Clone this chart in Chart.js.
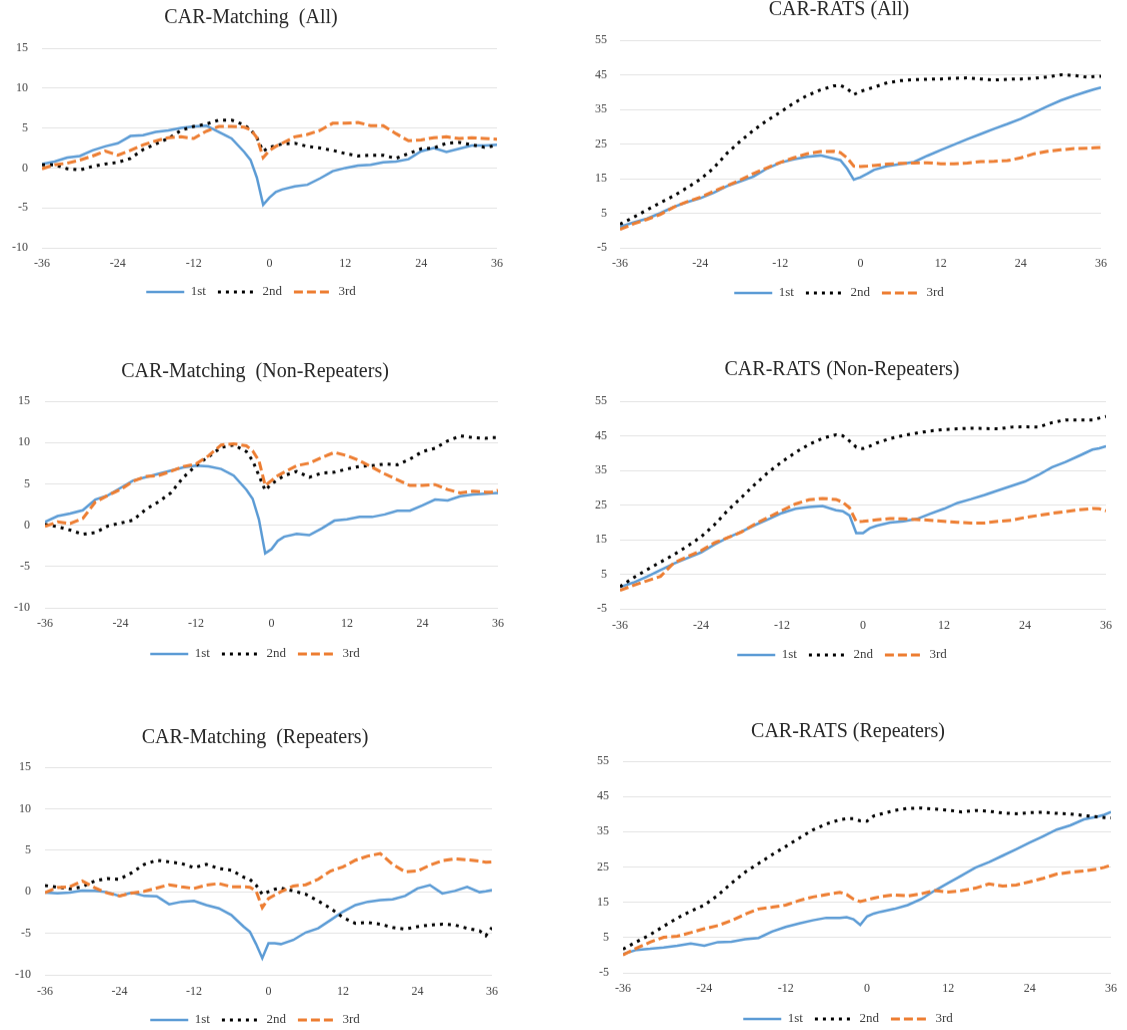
<!DOCTYPE html>
<html>
<head>
<meta charset="utf-8">
<script src="https://cdn.jsdelivr.net/npm/chart.js@4.4.0/dist/chart.umd.min.js"></script>
<style>
  html, body { margin: 0; padding: 0; background: #fff; overflow: hidden; }
  body { width: 1127px; height: 1030px; position: relative; }
  .panel { position: absolute; }
</style>
</head>
<body>
<div class="panel" id="p0"><canvas id="c0"></canvas></div>
<div class="panel" id="p1"><canvas id="c1"></canvas></div>
<div class="panel" id="p2"><canvas id="c2"></canvas></div>
<div class="panel" id="p3"><canvas id="c3"></canvas></div>
<div class="panel" id="p4"><canvas id="c4"></canvas></div>
<div class="panel" id="p5"><canvas id="c5"></canvas></div>
<script>
// months relative to the event
const months = [-36, -34, -32, -30, -28, -26, -24, -22, -20, -18, -16, -14, -12, -10, -8, -6, -4, -3, -2, -1,
                0, 1, 2, 4, 6, 8, 10, 12, 14, 16, 18, 20, 22, 24, 26, 28, 30, 32, 34, 35, 36];

const seriesNames = ['1st', '2nd', '3rd'];
const xTicks = [-36, -24, -12, 0, 12, 24, 36];
const yTicksMatch = [-10, -5, 0, 5, 10, 15];
const yTicksRats = [-5, 5, 15, 25, 35, 45, 55];

// CAR-Matching (All)
const matchAll1st = [0.5, 0.8, 1.3, 1.5, 2.2, 2.7, 3.1, 4.0, 4.1, 4.5, 4.7, 5.0, 5.2, 5.3, 4.5, 3.7, 2.0, 1.0, -1.2, -4.6,
                     -3.7, -3.0, -2.7, -2.3, -2.1, -1.3, -0.4, 0, 0.3, 0.4, 0.7, 0.8, 1.1, 2.1, 2.5, 2.0, 2.4, 2.8, 2.8, 2.85, 2.9];
const matchAll2nd = [0.4, 0.4, -0.1, -0.25, 0.2, 0.5, 0.7, 1.2, 2.3, 3.0, 3.7, 4.7, 5.2, 5.5, 6.0, 6.0, 5.4, 4.8, 3.8, 2.1,
                     2.6, 2.8, 3.0, 3.1, 2.7, 2.5, 2.2, 1.8, 1.5, 1.6, 1.6, 1.2, 1.8, 2.4, 2.5, 3.1, 3.2, 2.9, 2.6, 2.7, 2.9];
const matchAll3rd = [-0.1, 0.4, 0.6, 1.0, 1.5, 2.1, 1.6, 2.2, 2.9, 3.4, 3.8, 3.9, 3.7, 4.6, 5.2, 5.2, 5.1, 4.8, 3.8, 1.3,
                     2.2, 2.7, 3.1, 3.9, 4.2, 4.7, 5.6, 5.6, 5.7, 5.3, 5.3, 4.3, 3.4, 3.5, 3.8, 3.9, 3.7, 3.8, 3.7, 3.65, 3.6];

// CAR-RATS (All)
const ratsAll1st = [1.1, 2.3, 3.4, 5.0, 6.8, 8.2, 9.3, 10.9, 12.8, 14.2, 15.6, 17.9, 19.6, 20.6, 21.3, 21.7, 20.8, 20.3, 17.9, 14.7,
                    15.4, 16.4, 17.5, 18.6, 19.2, 19.8, 21.6, 23.2, 24.8, 26.4, 27.9, 29.4, 30.8, 32.3, 34.1, 35.9, 37.6, 39.0, 40.2, 40.8, 41.3];
const ratsAll2nd = [1.8, 3.8, 5.9, 8.0, 10.0, 12.3, 14.8, 18.0, 22.3, 25.8, 29.0, 31.8, 34.2, 36.8, 39.0, 40.6, 41.8, 41.9, 41.0, 39.3,
                    40.2, 40.8, 41.4, 42.7, 43.3, 43.6, 43.7, 43.8, 44.0, 44.1, 43.8, 43.5, 43.7, 43.8, 44.0, 44.4, 45.0, 44.8, 44.3, 44.5, 44.6];
const ratsAll3rd = [0.3, 1.9, 3.2, 4.6, 6.7, 8.3, 9.6, 11.3, 12.9, 14.6, 16.5, 18.1, 19.7, 21.0, 22.2, 22.8, 22.9, 22.5, 21.0, 18.6,
                    18.5, 18.6, 18.8, 19.2, 19.4, 19.5, 19.6, 19.3, 19.3, 19.5, 19.9, 20.0, 20.2, 21.0, 22.2, 22.9, 23.3, 23.7, 23.8, 23.9, 24.0];

// CAR-Matching (Non-Repeaters)
const matchNon1st = [0.4, 1.1, 1.4, 1.8, 3.1, 3.6, 4.5, 5.4, 5.8, 6.2, 6.6, 7.0, 7.2, 7.1, 6.8, 6.0, 4.3, 3.2, 0.7, -3.4,
                     -2.9, -1.9, -1.4, -1.05, -1.2, -0.4, 0.55, 0.7, 1.0, 1.0, 1.3, 1.75, 1.75, 2.4, 3.1, 3.0, 3.5, 3.7, 3.8, 3.85, 3.9];
const matchNon2nd = [0.1, -0.2, -0.6, -1.1, -0.9, -0.1, 0.25, 0.6, 1.9, 2.8, 3.9, 5.8, 7.2, 8.3, 9.4, 9.7, 8.9, 7.8, 6.0, 4.2,
                     5.0, 5.5, 6.0, 6.5, 5.8, 6.3, 6.4, 6.8, 7.1, 7.2, 7.4, 7.3, 8.0, 8.9, 9.3, 10.2, 10.8, 10.6, 10.5, 10.6, 10.6];
const matchNon3rd = [-0.15, 0.4, 0.2, 0.8, 2.8, 3.6, 4.3, 5.3, 5.9, 6.0, 6.5, 7.1, 7.4, 8.4, 9.7, 9.85, 9.6, 9.0, 7.8, 4.8,
                     5.4, 6.0, 6.4, 7.2, 7.5, 8.2, 8.8, 8.4, 7.8, 7.0, 6.2, 5.5, 4.8, 4.8, 4.9, 4.3, 3.9, 4.1, 4.0, 4.0, 4.2];

// CAR-RATS (Non-Repeaters)
const ratsNon1st = [1.25, 2.6, 4.3, 6.2, 8.1, 9.7, 11.3, 13.6, 15.6, 17.3, 19.2, 20.9, 22.7, 23.9, 24.4, 24.7, 23.5, 23.2, 22.0, 16.9,
                    16.9, 18.3, 19.0, 19.9, 20.3, 21.0, 22.5, 23.9, 25.6, 26.7, 27.9, 29.2, 30.5, 31.8, 33.7, 35.9, 37.4, 39.2, 41.0, 41.4, 42.0];
const ratsNon2nd = [1.4, 4.0, 6.3, 8.5, 10.7, 13.1, 15.8, 19.3, 23.5, 27.2, 31.0, 34.5, 37.5, 40.2, 42.5, 44.3, 45.3, 45.0, 43.5, 41.7,
                    41.3, 42.0, 42.9, 44.2, 45.1, 45.8, 46.4, 46.8, 47.0, 47.2, 47.1, 47.0, 47.5, 47.6, 47.5, 48.8, 49.6, 49.6, 49.6, 50.1, 50.6];
const ratsNon3rd = [0.3, 1.8, 3.1, 4.4, 8.3, 10.1, 11.8, 14.1, 15.6, 17.2, 19.5, 21.5, 23.4, 25.3, 26.5, 26.9, 26.6, 25.8, 24.2, 20.2,
                    20.3, 20.5, 20.7, 21.1, 21.0, 20.8, 20.6, 20.3, 20.0, 19.8, 19.8, 20.3, 20.6, 21.4, 22.0, 22.6, 23.1, 23.6, 24.0, 23.9, 23.3];

// CAR-Matching (Repeaters)
const matchRep1st = [-0.1, -0.2, -0.1, 0.15, 0.1, -0.05, -0.5, -0.1, -0.5, -0.55, -1.5, -1.2, -1.1, -1.6, -2.0, -2.8, -4.2, -4.8, -6.3, -8.0,
                     -6.2, -6.2, -6.3, -5.8, -4.9, -4.4, -3.4, -2.4, -1.6, -1.2, -1.0, -0.9, -0.5, 0.4, 0.8, -0.2, 0.1, 0.6, -0.05, 0.05, 0.2];
const matchRep2nd = [0.75, 0.55, 0.35, 0.6, 1.3, 1.6, 1.5, 2.3, 3.3, 3.8, 3.6, 3.4, 2.9, 3.3, 2.8, 2.6, 1.75, 1.5, 0.8, -0.3,
                     0.0, 0.3, 0.45, 0.1, -0.3, -1.1, -2.0, -3.1, -3.8, -3.7, -3.9, -4.3, -4.5, -4.2, -4.0, -3.9, -4.0, -4.4, -4.7, -5.3, -4.3];
const matchRep3rd = [-0.1, 0.5, 0.6, 1.3, 0.5, -0.15, -0.5, -0.15, 0.05, 0.45, 0.85, 0.6, 0.4, 0.8, 1.0, 0.6, 0.6, 0.55, 0.1, -1.9,
                     -0.8, -0.4, 0.0, 0.7, 0.85, 1.5, 2.5, 3.0, 3.8, 4.3, 4.6, 3.3, 2.4, 2.5, 3.2, 3.75, 3.95, 3.85, 3.7, 3.55, 3.6];

// CAR-RATS (Repeaters)
const ratsRep1st = [0.3, 1.5, 1.8, 2.2, 2.7, 3.3, 2.7, 3.7, 3.8, 4.5, 4.9, 6.7, 8.0, 9.0, 9.9, 10.6, 10.6, 10.8, 10.2, 8.6,
                    11.0, 11.8, 12.3, 13.1, 14.2, 15.9, 18.3, 20.5, 22.6, 24.8, 26.4, 28.2, 30.0, 31.9, 33.7, 35.6, 36.8, 38.5, 39.3, 39.8, 40.6];
const ratsRep2nd = [1.7, 3.8, 5.8, 8.2, 10.5, 12.5, 14.2, 17.0, 20.4, 23.5, 26.0, 28.5, 30.8, 33.2, 35.5, 37.2, 38.4, 38.7, 38.7, 38.1,
                    38.0, 39.5, 40.0, 41.0, 41.6, 41.7, 41.4, 41.1, 40.6, 41.0, 40.8, 40.3, 40.1, 40.4, 40.5, 40.2, 40.0, 39.6, 39.2, 39.0, 38.9];
const ratsRep3rd = [0.05, 2.0, 3.7, 5.1, 5.4, 6.4, 7.5, 8.4, 9.8, 11.6, 13.1, 13.6, 14.2, 15.5, 16.5, 17.2, 17.8, 17.2, 15.9, 15.2,
                    15.7, 16.2, 16.6, 17.1, 16.8, 17.4, 18.3, 17.9, 18.3, 19.0, 20.2, 19.6, 19.9, 20.8, 21.8, 23.0, 23.5, 23.9, 24.4, 24.9, 25.5];

const charts = [
  { title: 'CAR-Matching  (All)', yTicks: yTicksMatch, series: [matchAll1st, matchAll2nd, matchAll3rd] },
  { title: 'CAR-RATS (All)', yTicks: yTicksRats, series: [ratsAll1st, ratsAll2nd, ratsAll3rd] },
  { title: 'CAR-Matching  (Non-Repeaters)', yTicks: yTicksMatch, series: [matchNon1st, matchNon2nd, matchNon3rd] },
  { title: 'CAR-RATS (Non-Repeaters)', yTicks: yTicksRats, series: [ratsNon1st, ratsNon2nd, ratsNon3rd] },
  { title: 'CAR-Matching  (Repeaters)', yTicks: yTicksMatch, series: [matchRep1st, matchRep2nd, matchRep3rd] },
  { title: 'CAR-RATS (Repeaters)', yTicks: yTicksRats, series: [ratsRep1st, ratsRep2nd, ratsRep3rd] }
];

// page placement of each panel (pixels); title and legend centre on (left + plotRight) / 2
const boxes = [
  { left: 0,   width: 512, plotLeft: 42,  plotRight: 502,  labelRight: 28,  titleY: 18,  plotTop: 48,  plotBottom: 247, xLabelY: 263, legendY: 291 },
  { left: 577, width: 539, plotLeft: 620, plotRight: 1101, labelRight: 607, titleY: 10,  plotTop: 40,  plotBottom: 247, xLabelY: 263, legendY: 292 },
  { left: 7,   width: 506, plotLeft: 45,  plotRight: 503,  labelRight: 30,  titleY: 372, plotTop: 401, plotBottom: 607, xLabelY: 623, legendY: 653 },
  { left: 577, width: 545, plotLeft: 620, plotRight: 1107, labelRight: 607, titleY: 370, plotTop: 401, plotBottom: 608, xLabelY: 625, legendY: 654 },
  { left: 12,  width: 496, plotLeft: 45,  plotRight: 498,  labelRight: 31,  titleY: 738, plotTop: 767, plotBottom: 974, xLabelY: 991, legendY: 1019 },
  { left: 582, width: 544, plotLeft: 623, plotRight: 1114, labelRight: 609, titleY: 732, plotTop: 761, plotBottom: 972, xLabelY: 988, legendY: 1018 }
];

const lineStyles = [
  { color: '#5B9BD5', width: 2.5, dash: [], order: 3 },
  { color: '#000000', width: 3, dash: [3, 5], order: 2 },
  { color: '#ED7D31', width: 3, dash: [9, 4], order: 1 }
];

const serif = 'Liberation Serif, Times New Roman, serif';
const titleSize = 20, titlePadTop = 4;
const legendFont = 13, legendPad = 12;

charts.forEach((c, idx) => {
  const b = boxes[idx];
  const boxTop = b.titleY - titleSize * 0.6 - titlePadTop;
  const titlePadBottom = b.plotTop - b.titleY - titleSize * 0.6;
  const legendH = legendFont + legendPad + 10;
  const legendTop = b.legendY - legendPad - legendFont / 2;
  const xAxisH = legendTop - b.plotBottom;
  const boxHeight = legendTop + legendH - boxTop;

  const panel = document.getElementById('p' + idx);
  panel.style.left = b.left + 'px';
  panel.style.top = boxTop + 'px';
  panel.style.width = b.width + 'px';
  panel.style.height = boxHeight + 'px';

  const ctx = document.getElementById('c' + idx).getContext('2d');
  new Chart(ctx, {
    type: 'line',
    data: {
      datasets: c.series.map((vals, i) => ({
        label: seriesNames[i],
        data: months.map((m, j) => ({ x: m, y: vals[j] })),
        borderColor: lineStyles[i].color,
        borderWidth: lineStyles[i].width,
        borderDash: lineStyles[i].dash,
        order: lineStyles[i].order,
        pointRadius: 0,
        tension: 0,
        fill: false
      }))
    },
    options: {
      responsive: true,
      maintainAspectRatio: false,
      animation: false,
      layout: { padding: { left: 0, right: b.left + b.width - b.plotRight, top: 0, bottom: 0 } },
      plugins: {
        title: {
          display: true,
          text: c.title,
          color: '#262626',
          font: { family: serif, size: titleSize, weight: 'normal' },
          padding: { top: titlePadTop, bottom: titlePadBottom }
        },
        legend: {
          position: 'bottom',
          labels: {
            usePointStyle: true,
            pointStyle: 'line',
            pointStyleWidth: 38,
            padding: legendPad,
            color: '#404040',
            font: { family: serif, size: legendFont },
            // legend swatches take the dataset's own dash pattern
            generateLabels: (chart) => {
              const items = Chart.defaults.plugins.legend.labels.generateLabels(chart);
              items.forEach((it) => {
                const ds = chart.data.datasets[it.datasetIndex];
                it.lineDash = ds.borderDash;
                it.lineWidth = ds.borderWidth;
                it.strokeStyle = ds.borderColor;
              });
              return items;
            },
            sort: (a, z) => a.datasetIndex - z.datasetIndex
          }
        },
        tooltip: { enabled: false }
      },
      scales: {
        x: {
          type: 'linear',
          min: xTicks[0],
          max: xTicks[xTicks.length - 1],
          grid: { display: false, drawTicks: false },
          border: { display: false },
          ticks: {
            stepSize: xTicks[1] - xTicks[0],
            padding: b.xLabelY - 7 - b.plotBottom,
            color: '#404040',
            font: { family: serif, size: 12 },
            maxRotation: 0
          },
          afterFit: (scale) => { scale.height = xAxisH; }
        },
        y: {
          min: c.yTicks[0],
          max: c.yTicks[c.yTicks.length - 1],
          grid: { color: '#e3e3e3', lineWidth: 1, drawTicks: false },
          border: { display: false },
          ticks: {
            stepSize: c.yTicks[1] - c.yTicks[0],
            padding: b.plotLeft - b.labelRight,
            color: '#404040',
            font: { family: serif, size: 12 }
          },
          afterFit: (scale) => { scale.width = b.plotLeft - b.left; }
        }
      }
    }
  });
});
</script>
</body>
</html>
